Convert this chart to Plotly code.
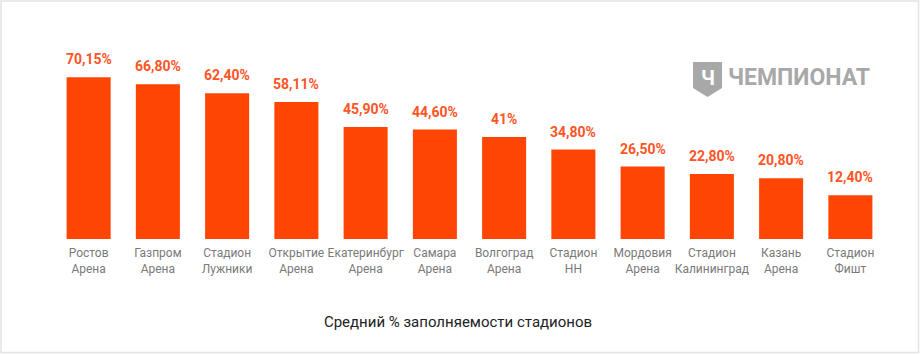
import plotly.graph_objects as go

categories = ["Ростов<br>Арена", "Газпром<br>Арена", "Стадион<br>Лужники", "Открытие<br>Арена",
              "Екатеринбург<br>Арена", "Самара<br>Арена", "Волгоград<br>Арена", "Стадион<br>НН",
              "Мордовия<br>Арена", "Стадион<br>Калининград", "Казань<br>Арена", "Стадион<br>Фишт"]
values = [70.15, 66.80, 62.40, 58.11, 45.90, 44.60, 41.0, 34.80, 26.50, 22.80, 20.80, 12.40]
labels = ["70,15%", "66,80%", "62,40%", "58,11%", "45,90%", "44,60%", "41%", "34,80%",
          "26,50%", "22,80%", "20,80%", "12,40%"]

W, H = 920, 354
ML, MR, MT, MB = 54, 35, 40, 115
AXIS_MIN, AXIS_MAX = -9.0, 88.45
BAR_COLOR = "#FF4503"
LABEL_COLOR = "#FF5426"

pw, ph = W - ML - MR, H - MT - MB


def px(x):
    return (x - ML) / pw


def py(y):
    return (H - MB - y) / ph


fig = go.Figure()
fig.add_trace(go.Bar(
    x=categories,
    y=[v - AXIS_MIN for v in values],
    base=AXIS_MIN,
    marker=dict(color=BAR_COLOR, line=dict(width=0)),
    width=0.636,
    hoverinfo="skip",
))

annotations = []
for c, v, t in zip(categories, values, labels):
    annotations.append(dict(
        x=c, y=v, xref="x", yref="y", text=t, showarrow=False,
        yanchor="middle", yshift=18,
        font=dict(family="Roboto", size=14, color=LABEL_COLOR, weight="bold"),
    ))

# logo text
annotations.append(dict(
    x=px(799), y=py(77.5), xref="paper", yref="paper", text="ЧЕМПИОНАТ",
    showarrow=False, xanchor="center", yanchor="middle",
    font=dict(family="Roboto", size=23, color="#A8A8A8", weight="bold"),
))
annotations.append(dict(
    x=px(707.5), y=py(78), xref="paper", yref="paper", text="Ч",
    showarrow=False, xanchor="center", yanchor="middle",
    font=dict(family="Roboto", size=20, color="#FFFFFF", weight="bold"),
))

shapes = []
# shield
x0, x1, y0, y1, yk = 693, 722, 62, 97, 88
path = "M {:.4f} {:.4f} L {:.4f} {:.4f} L {:.4f} {:.4f} L {:.4f} {:.4f} L {:.4f} {:.4f} Z".format(
    px(x0), py(y0), px(x1), py(y0), px(x1), py(yk), px((x0 + x1) / 2), py(y1), px(x0), py(yk))
shapes.append(dict(type="path", path=path, xref="paper", yref="paper",
                   fillcolor="#A8A8A8", line=dict(width=0), layer="below"))
# border frame
shapes.append(dict(type="rect", xref="paper", yref="paper",
                   x0=px(1), x1=px(918.5), y0=py(352.5), y1=py(1),
                   line=dict(color="#E3E3E3", width=1.5), fillcolor="rgba(0,0,0,0)"))

fig.update_layout(
    width=W, height=H,
    margin=dict(l=ML, r=MR, t=MT, b=MB, pad=0),
    paper_bgcolor="white", plot_bgcolor="white",
    showlegend=False,
    bargap=0.364,
    annotations=annotations,
    shapes=shapes,
    title=dict(text="Средний % заполняемости стадионов",
               x=458 / W, y=1 - 322 / H, xref="container", yref="container",
               xanchor="center", yanchor="middle",
               font=dict(family="Roboto", size=15, color="#222222")),
    xaxis=dict(showgrid=False, zeroline=False, showline=False,
               ticks="outside", ticklen=3, tickcolor="rgba(0,0,0,0)",
               tickfont=dict(family="Roboto", size=12, color="#7A7A7A")),
    yaxis=dict(range=[AXIS_MIN, AXIS_MAX], visible=False, showgrid=False, zeroline=False),
)

fig.write_html("out.html")
